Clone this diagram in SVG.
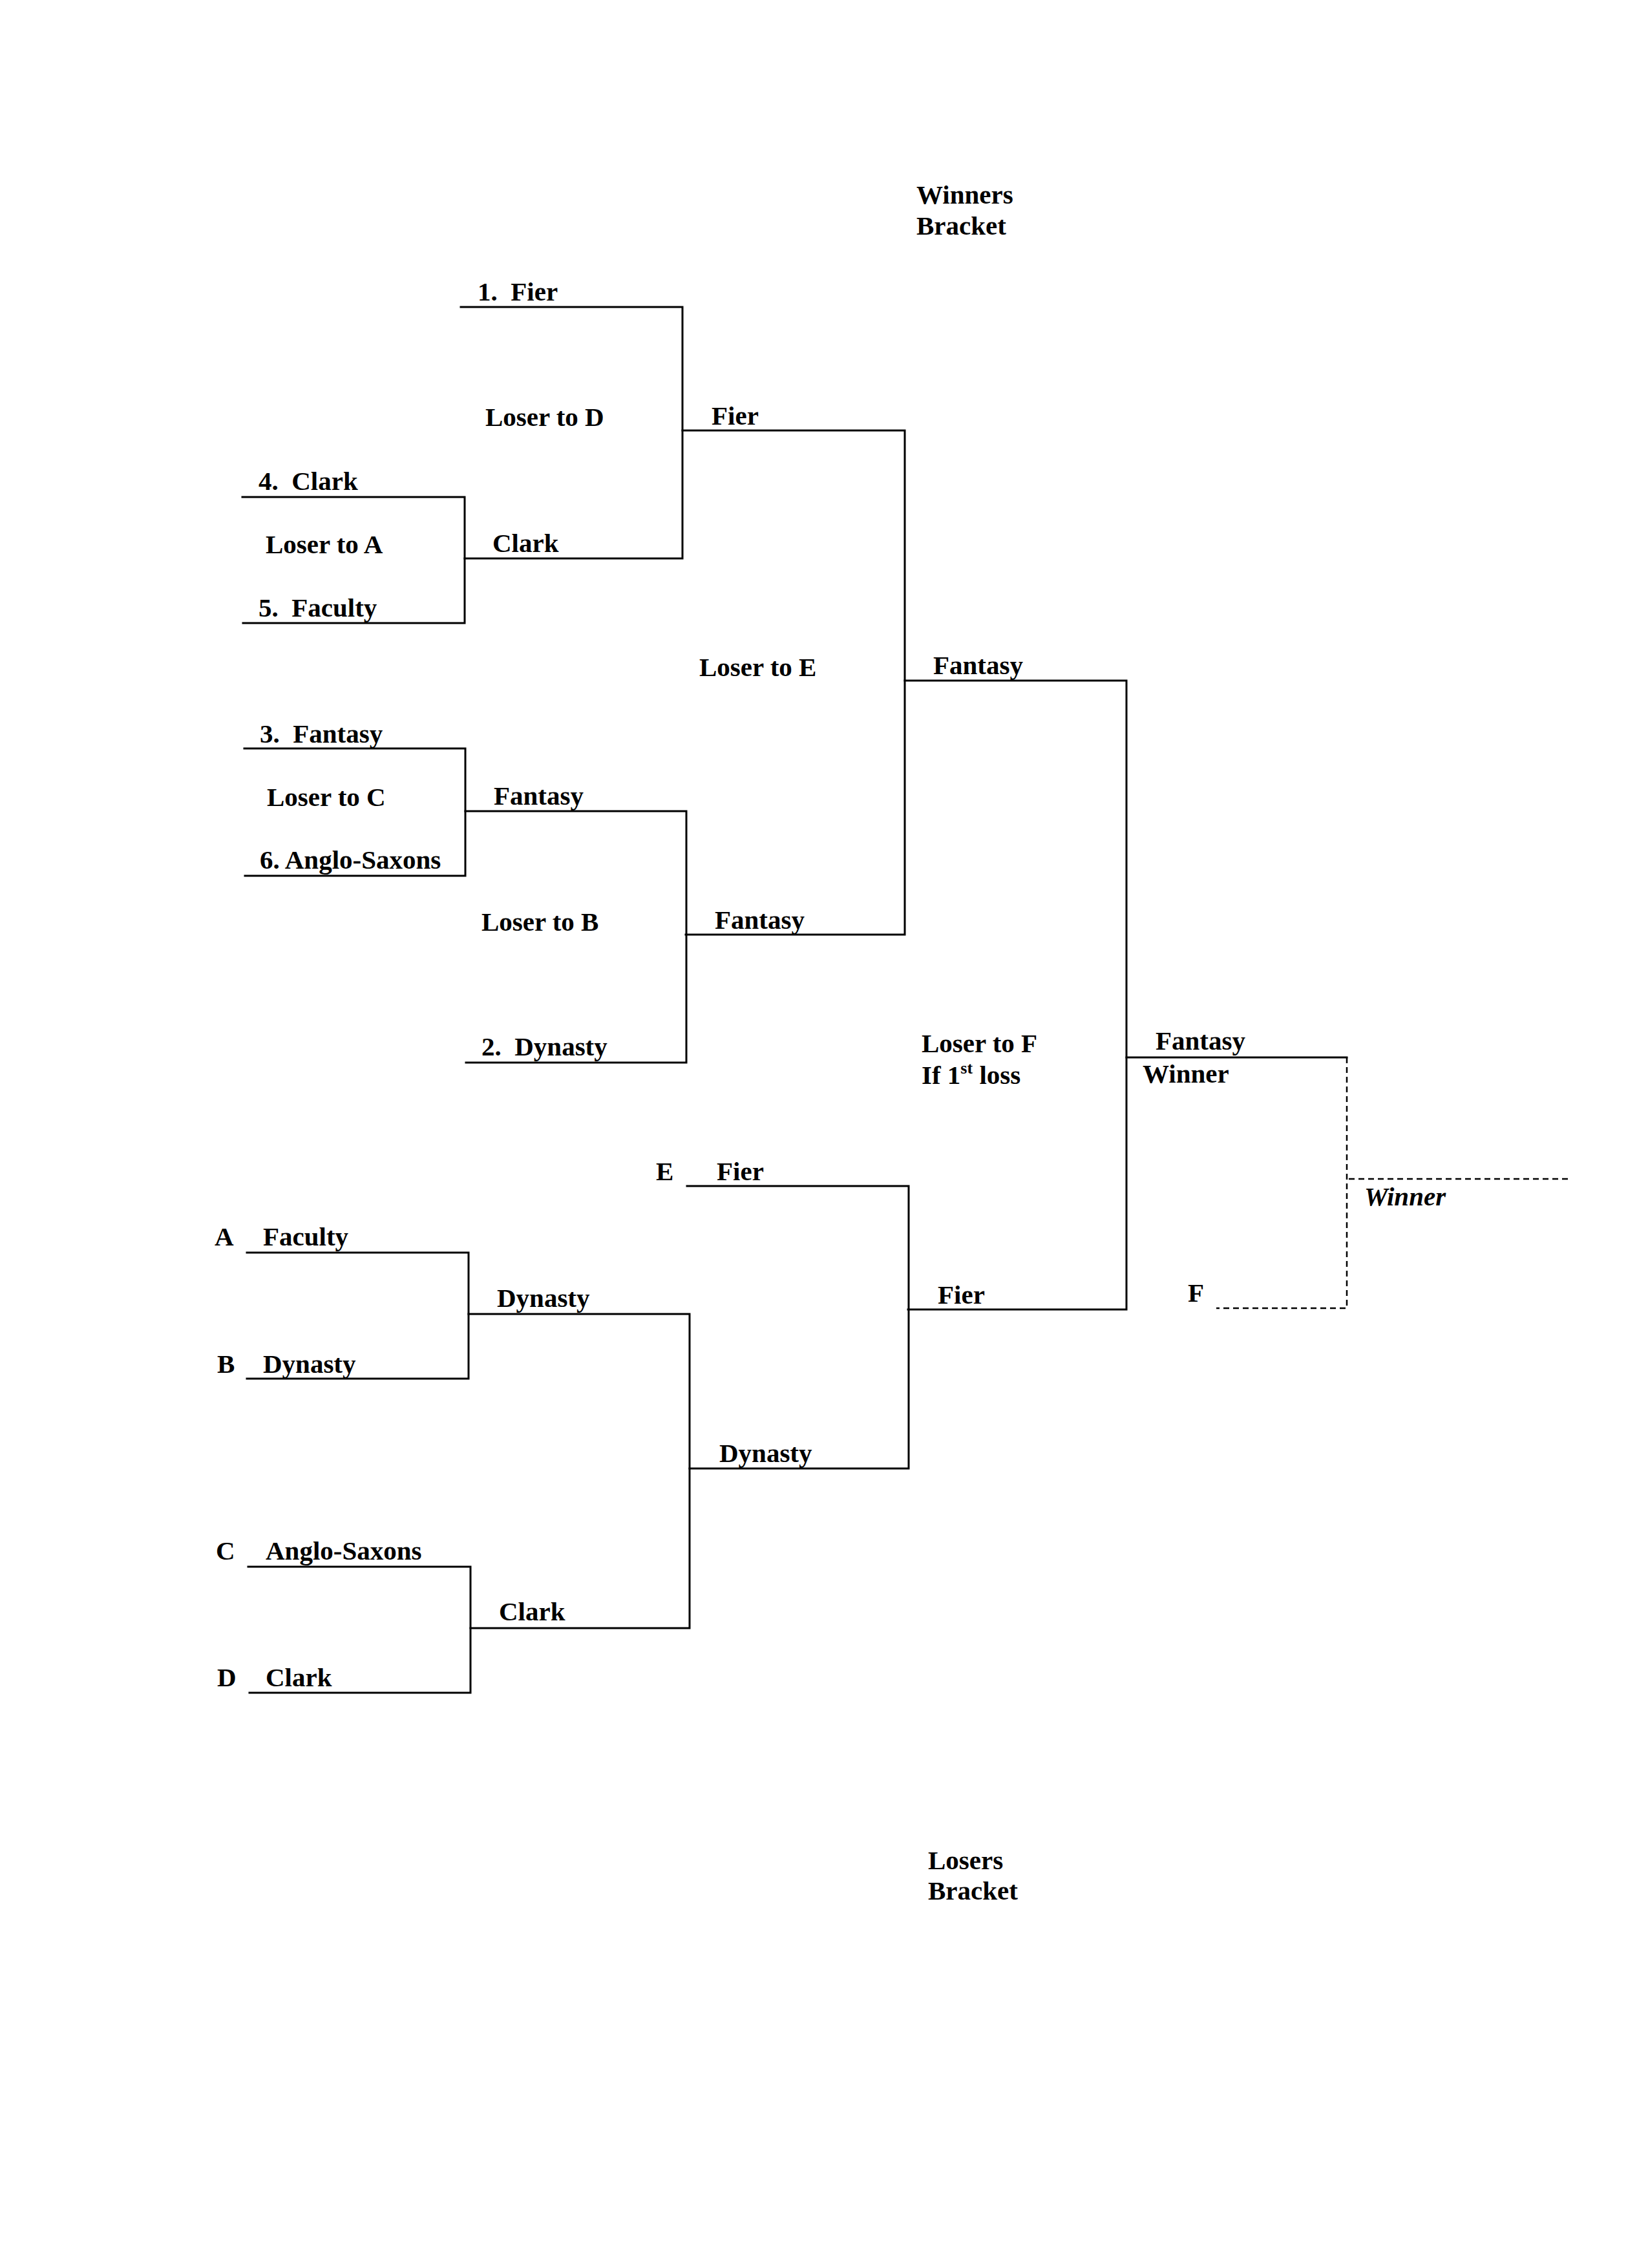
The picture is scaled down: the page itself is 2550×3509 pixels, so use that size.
<svg xmlns="http://www.w3.org/2000/svg" width="2550" height="3509" viewBox="0 0 2550 3509">
<style>
.bg{fill:#ffffff}
.ln{fill:none;stroke:#000;stroke-width:3;stroke-linecap:square}
.dash{fill:none;stroke:#000;stroke-width:2.5;stroke-dasharray:9 6}
text{font-family:"Liberation Serif","Times New Roman",serif;font-weight:bold;font-size:41px;fill:#000}
.it{font-style:italic}
</style>
<rect class="bg" x="0" y="0" width="2550" height="3509"/>
<g id="connectors">
<path class="ln" d="M713 475 H1056 V864 H719"/>
<path class="ln" d="M375 769 H719 V964 H376"/>
<path class="ln" d="M1056 666 H1400 V1446 H1061"/>
<path class="ln" d="M378 1158 H720 V1355 H379"/>
<path class="ln" d="M720 1255 H1062 V1644 H721"/>
<path class="ln" d="M1400 1053 H1743 V2026 H1405"/>
<path class="ln" d="M1743 1636 H2084"/>
<path class="ln" d="M382 1938 H725 V2133 H382"/>
<path class="ln" d="M725 2033 H1067 V2519 H728"/>
<path class="ln" d="M384 2424 H728 V2619 H386"/>
<path class="ln" d="M1063 1835 H1406 V2272 H1067"/>
<path class="dash" d="M2084 1636 V2024 H1882"/>
<path class="dash" d="M2087 1824 H2429"/>
</g>
<g id="title-winners"><text x="1418" y="315">Winners</text><text x="1418" y="363">Bracket</text></g>
<g id="title-losers"><text x="1436" y="2892">Losers</text><text x="1436" y="2939">Bracket</text></g>
<g id="seed1"><text x="739" y="465" xml:space="preserve">1.  Fier</text></g>
<g id="loser-d"><text x="751" y="659">Loser to D</text></g>
<g id="w2-fier"><text x="1101" y="657">Fier</text></g>
<g id="seed4"><text x="400" y="758" xml:space="preserve">4.  Clark</text></g>
<g id="loser-a"><text x="411" y="856">Loser to A</text></g>
<g id="w1-clark"><text x="762" y="854">Clark</text></g>
<g id="seed5"><text x="400" y="954" xml:space="preserve">5.  Faculty</text></g>
<g id="loser-e"><text x="1082" y="1046">Loser to E</text></g>
<g id="w3-fantasy"><text x="1444" y="1043">Fantasy</text></g>
<g id="seed3"><text x="402" y="1149" xml:space="preserve">3.  Fantasy</text></g>
<g id="loser-c"><text x="413" y="1247">Loser to C</text></g>
<g id="w1-fantasy"><text x="764" y="1245">Fantasy</text></g>
<g id="seed6"><text x="402" y="1344">6. Anglo-Saxons</text></g>
<g id="loser-b"><text x="745" y="1440">Loser to B</text></g>
<g id="w2-fantasy"><text x="1106" y="1437">Fantasy</text></g>
<g id="seed2"><text x="745" y="1633" xml:space="preserve">2.  Dynasty</text></g>
<g id="loser-f"><text x="1426" y="1628">Loser to F</text><text x="1426" y="1677">If 1<tspan font-size="26" dy="-16">st</tspan><tspan dy="16"> loss</tspan></text></g>
<g id="final-fantasy"><text x="1788" y="1624">Fantasy</text><text x="1768" y="1675">Winner</text></g>
<g id="champion"><text class="it" x="2111" y="1865">Winner</text></g>
<g id="slot-f"><text x="1838" y="2014">F</text></g>
<g id="slot-e"><text x="1015" y="1826">E</text><text x="1109" y="1826">Fier</text></g>
<g id="l3-fier"><text x="1451" y="2017">Fier</text></g>
<g id="slot-a"><text x="332" y="1927">A</text><text x="407" y="1927">Faculty</text></g>
<g id="slot-b"><text x="336" y="2124">B</text><text x="407" y="2124">Dynasty</text></g>
<g id="l1-dynasty"><text x="769" y="2022">Dynasty</text></g>
<g id="l2-dynasty"><text x="1113" y="2262">Dynasty</text></g>
<g id="slot-c"><text x="334" y="2413">C</text><text x="411" y="2413">Anglo-Saxons</text></g>
<g id="l1-clark"><text x="772" y="2507">Clark</text></g>
<g id="slot-d"><text x="336" y="2609">D</text><text x="411" y="2609">Clark</text></g>
</svg>
